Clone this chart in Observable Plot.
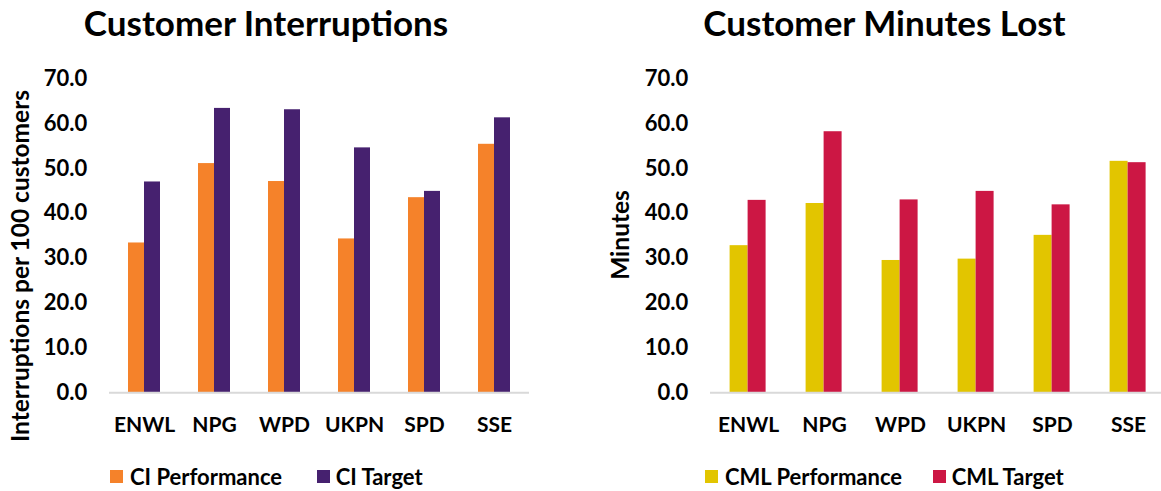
<!DOCTYPE html>
<html><head><meta charset="utf-8">
<script src="https://cdn.jsdelivr.net/npm/d3@7"></script>
<script src="https://cdn.jsdelivr.net/npm/@observablehq/plot@0.6"></script>
<style>
html,body{margin:0;padding:0;background:#fff;}
#root{position:relative;width:1161px;height:491px;overflow:hidden;font-family:Lato,sans-serif;font-weight:700;color:#000;}
.abs{position:absolute;white-space:nowrap;line-height:1;}
.title{font-size:35px;transform:translateX(-50%);}
.ylab{font-size:24.5px;transform:translate(-50%,-50%) rotate(-90deg);}
.leg{font-size:22px;}
.sw{position:absolute;width:13px;height:13px;}
.panel{position:absolute;top:50px;}
.panel svg{max-width:none !important;}
</style></head>
<body><div id="root"></div>
<script>
const companies = ["ENWL", "NPG", "WPD", "UKPN", "SPD", "SSE"];
const ciSeries = ["CI Performance", "CI Target"];
const ciPerformance = [33.4, 51.1, 47.1, 34.3, 43.5, 55.4];
const ciTarget = [47.0, 63.4, 63.1, 54.6, 44.9, 61.3];
const cmlSeries = ["CML Performance", "CML Target"];
const cmlPerformance = [32.8, 42.2, 29.5, 29.8, 35.1, 51.6];
const cmlTarget = [42.9, 58.2, 43.0, 44.9, 41.9, 51.3];
const yTicks = [0, 10, 20, 30, 40, 50, 60, 70];
const ciColors = ["#F5822A", "#46216F"];
const cmlColors = ["#E2C500", "#CC1744"];

const root = document.getElementById("root");

function chart(perf, target, series, colors, width, ml, mr) {
  const rows = companies.flatMap((c, i) => [
    {company: c, series: series[0], value: perf[i]},
    {company: c, series: series[1], value: target[i]}
  ]);
  return Plot.plot({
    width, height: 400,
    marginTop: 28.3, marginBottom: 57.7, marginLeft: ml, marginRight: mr,
    style: {fontFamily: "Lato, sans-serif", fontWeight: "bold", fontSize: "22px", color: "#000", background: "transparent", maxWidth: "none"},
    fx: {domain: companies, padding: 0, axis: "bottom", label: null, tickSize: 0, tickPadding: 24},
    x: {domain: series, paddingInner: 0, paddingOuter: 1.09, axis: null},
    y: {domain: [0, 70], ticks: yTicks, tickFormat: d => d.toFixed(1), tickSize: 0, tickPadding: 22.3, label: null},
    color: {domain: series, range: colors},
    marks: [
      Plot.barY(rows, {fx: "company", x: "series", y: "value", fill: "series"}),
      Plot.ruleY([0], {stroke: "#D9D9D9", strokeWidth: 2})
    ]
  });
}

function add(cls, css, text) {
  const d = document.createElement("div");
  d.className = cls;
  Object.assign(d.style, css);
  if (text != null) d.textContent = text;
  root.appendChild(d);
  return d;
}

const left = chart(ciPerformance, ciTarget, ciSeries, ciColors, 580, 109, 50.5);
const lp = add("panel", {left: "0px", width: "580px"});
lp.appendChild(left);
const right = chart(cmlPerformance, cmlTarget, cmlSeries, cmlColors, 600, 128.4, 12.5);
const rp = add("panel", {left: "580px", width: "600px"});
rp.appendChild(right);
// category tick labels slightly smaller than value ticks
document.querySelectorAll(".panel svg g[aria-label='fx-axis tick label'], .panel svg g[aria-label='fx-axis']").forEach(g => g.setAttribute("font-size", "21"));

add("abs title", {left: "266px", top: "4.7px"}, "Customer Interruptions");
add("abs title", {left: "884.5px", top: "4.7px"}, "Customer Minutes Lost");
add("abs ylab", {left: "20px", top: "266px"}, "Interruptions per 100 customers");
add("abs ylab", {left: "620px", top: "235px"}, "Minutes");

function legend(series, colors, swX, txX) {
  series.forEach((s, i) => {
    add("sw", {left: swX[i] + "px", top: "470px", background: colors[i]});
    add("abs leg", {left: txX[i] + "px", top: "465.5px"}, s);
  });
}
legend(ciSeries, ciColors, [110, 316.7], [130, 335.7]);
legend(cmlSeries, cmlColors, [705, 933.3], [725, 951.7]);
</script>
</body></html>
